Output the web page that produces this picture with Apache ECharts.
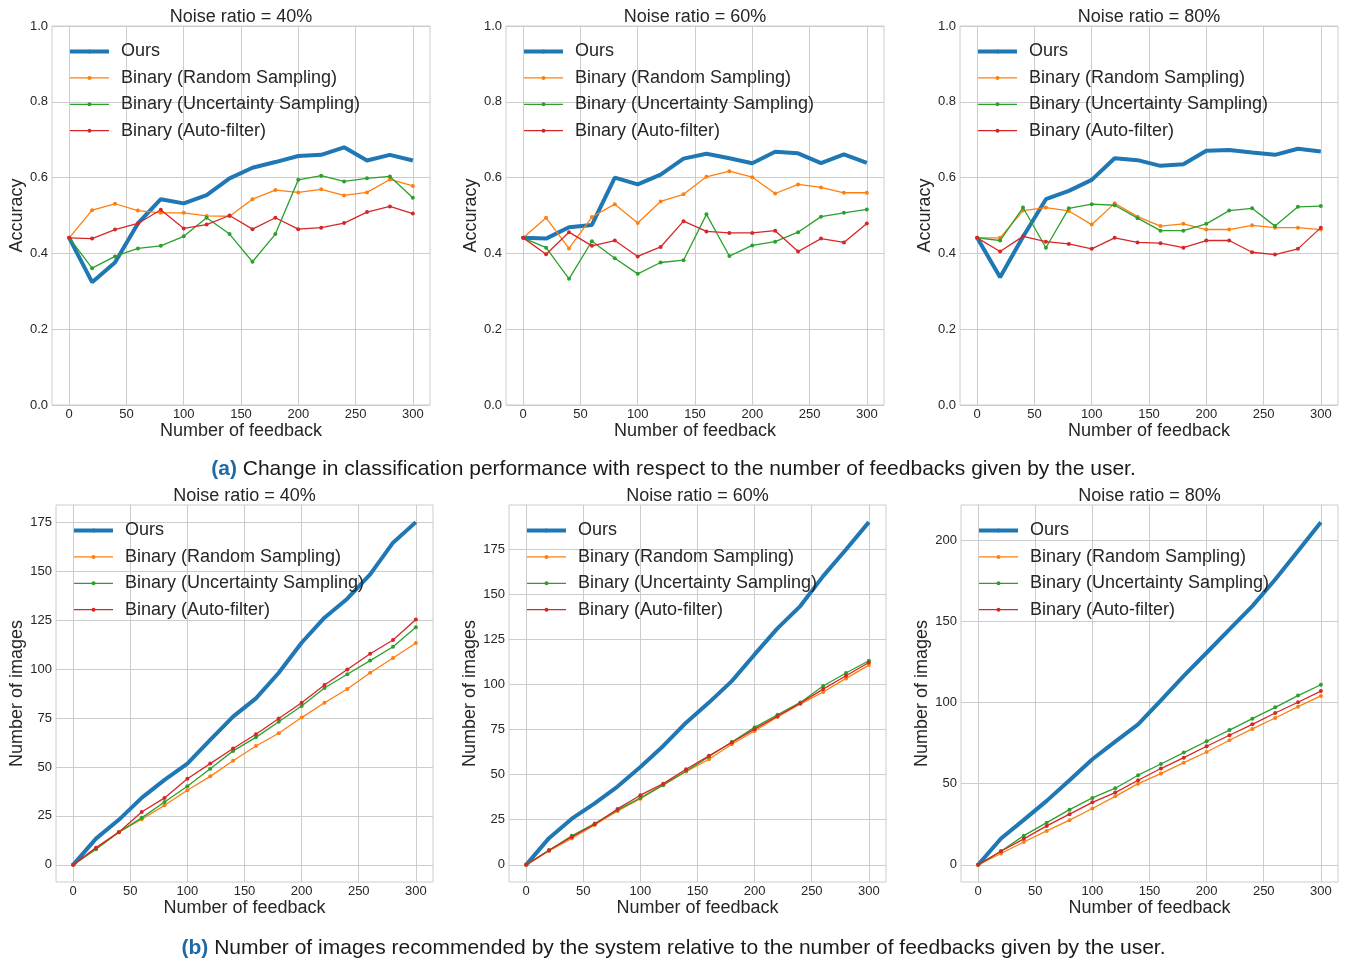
<!DOCTYPE html>
<html>
<head>
<meta charset="utf-8">
<script src="https://cdn.jsdelivr.net/npm/echarts@6/dist/echarts.min.js"></script>
<style>
html,body{margin:0;padding:0;background:#fff;}
#chart{width:1347px;height:963px;}
</style>
</head>
<body>
<div id="chart"></div>
<script>
// ---------------- DATA ----------------
const feedback = [0, 20, 40, 60, 80, 100, 120, 140, 160, 180, 200, 220, 240, 260, 280, 300];
const seriesNames = ['Ours', 'Binary (Random Sampling)', 'Binary (Uncertainty Sampling)', 'Binary (Auto-filter)'];
const panelTitles = ['Noise ratio = 40%', 'Noise ratio = 60%', 'Noise ratio = 80%'];
const xTickLabels = [0, 50, 100, 150, 200, 250, 300];
const accTickLabels = [0, 0.2, 0.4, 0.6, 0.8, 1.0];
const img40TickLabels = [0, 25, 50, 75, 100, 125, 150, 175];
const img60TickLabels = [0, 25, 50, 75, 100, 125, 150, 175];
const img80TickLabels = [0, 50, 100, 150, 200];

// (a) accuracy
const acc40_ours   = [0.441,0.324,0.376,0.479,0.543,0.532,0.554,0.598,0.626,0.641,0.657,0.660,0.680,0.645,0.660,0.645];
const acc40_random = [0.441,0.514,0.531,0.513,0.507,0.507,0.499,0.498,0.543,0.567,0.561,0.569,0.553,0.561,0.595,0.578];
const acc40_uncert = [0.441,0.361,0.392,0.413,0.420,0.445,0.494,0.451,0.378,0.451,0.594,0.605,0.590,0.598,0.603,0.547];
const acc40_auto   = [0.441,0.439,0.463,0.479,0.515,0.466,0.476,0.500,0.464,0.494,0.464,0.468,0.480,0.509,0.524,0.505];

const acc60_ours   = [0.441,0.439,0.469,0.475,0.600,0.582,0.608,0.650,0.663,0.651,0.638,0.668,0.664,0.638,0.661,0.639];
const acc60_random = [0.441,0.494,0.413,0.496,0.530,0.480,0.537,0.556,0.602,0.617,0.601,0.558,0.582,0.574,0.560,0.560];
const acc60_uncert = [0.441,0.415,0.333,0.432,0.387,0.346,0.376,0.382,0.503,0.393,0.421,0.431,0.456,0.497,0.507,0.516];
const acc60_auto   = [0.441,0.398,0.456,0.420,0.434,0.392,0.417,0.485,0.458,0.454,0.454,0.460,0.405,0.439,0.429,0.479];

const acc80_ours   = [0.441,0.337,0.444,0.543,0.565,0.594,0.651,0.646,0.631,0.635,0.671,0.673,0.666,0.660,0.676,0.669];
const acc80_random = [0.441,0.441,0.513,0.521,0.512,0.476,0.532,0.497,0.472,0.478,0.463,0.463,0.474,0.468,0.468,0.463];
const acc80_uncert = [0.441,0.434,0.521,0.415,0.519,0.530,0.527,0.493,0.460,0.460,0.478,0.513,0.519,0.472,0.523,0.525];
const acc80_auto   = [0.441,0.405,0.445,0.431,0.425,0.412,0.441,0.429,0.427,0.415,0.434,0.434,0.403,0.397,0.412,0.468];

// (b) number of images
const img40_ours   = [0,13.4,23.0,34.2,43.4,51.7,63.8,75.7,85.0,98.1,113.4,126.2,135.9,148.3,164.5,175.0];
const img40_random = [0,8.2,16.7,23.3,30.4,38.1,45.2,53.2,60.7,67.2,75.2,82.8,89.8,98.1,105.6,113.3];
const img40_uncert = [0,8.0,16.7,24.0,32.1,40.1,49.1,58.2,65.1,73.1,81.1,90.3,97.3,104.3,111.4,121.3];
const img40_auto   = [0,8.8,16.7,27.0,34.2,44.0,51.7,59.4,66.7,74.7,82.8,91.8,99.8,107.8,114.8,125.3];

const img60_ours   = [0,14.8,25.6,34.1,43.4,54.2,65.9,78.8,89.9,101.8,116.6,131.0,143.4,160.0,174.7,189.9];
const img60_random = [0,7.7,14.6,22.1,29.9,36.7,44.1,51.7,58.5,66.8,74.2,81.9,89.1,95.8,103.3,110.7];
const img60_uncert = [0,8.1,16.1,22.9,30.3,37.1,44.3,52.0,60.0,68.1,76.2,83.2,90.0,99.1,106.3,113.1];
const img60_auto   = [0,8.1,15.5,22.5,31.0,38.6,45.0,53.0,60.4,67.8,75.2,82.4,89.6,97.4,104.8,112.1];

const img80_ours   = [0,16.2,27.7,39.4,52.1,65.0,75.9,86.5,101.3,116.3,130.6,145.0,159.3,175.7,193.2,211.0];
const img80_random = [0,7.0,14.1,20.9,27.5,34.7,42.2,50.0,56.2,62.9,69.5,76.7,83.7,90.4,97.4,104.0];
const img80_uncert = [0,8.4,18.0,26.0,34.0,41.2,47.2,55.2,62.1,69.1,76.1,83.0,90.0,97.0,104.2,110.9];
const img80_auto   = [0,8.4,16.0,24.0,31.2,38.5,44.5,52.1,59.3,66.0,73.0,79.8,86.5,93.5,100.1,107.0];

const captionA = 'Change in classification performance with respect to the number of feedbacks given by the user.';
const captionB = 'Number of images recommended by the system relative to the number of feedbacks given by the user.';

// ---------------- STYLE / LAYOUT ----------------
const FONT = "'Liberation Sans', Arial, Helvetica, sans-serif";
const TXT = '#262626';
const GRIDC = '#cccccc';
const COLORS = ['#1f77b4', '#ff7f0e', '#2ca02c', '#d62728'];

function autoRange(arrays) {
  let lo = Infinity, hi = -Infinity;
  arrays.forEach(a => a.forEach(v => { lo = Math.min(lo, v); hi = Math.max(hi, v); }));
  const m = (hi - lo) * 0.05;
  return [lo - m, hi + m];
}
const xRange = autoRange([feedback]);

const panels = [
  {left: 52, top: 26, w: 378, h: 379, title: panelTitles[0], yName: 'Accuracy', lines: [acc40_ours, acc40_random, acc40_uncert, acc40_auto], yRange: [0, 1], ticks: accTickLabels, acc: true, nameGap: 26},
  {left: 506, top: 26, w: 378, h: 379, title: panelTitles[1], yName: 'Accuracy', lines: [acc60_ours, acc60_random, acc60_uncert, acc60_auto], yRange: [0, 1], ticks: accTickLabels, acc: true, nameGap: 26},
  {left: 960, top: 26, w: 378, h: 379, title: panelTitles[2], yName: 'Accuracy', lines: [acc80_ours, acc80_random, acc80_uncert, acc80_auto], yRange: [0, 1], ticks: accTickLabels, acc: true, nameGap: 26},
  {left: 56, top: 505, w: 377, h: 377, title: panelTitles[0], yName: 'Number of images', lines: [img40_ours, img40_random, img40_uncert, img40_auto], ticks: img40TickLabels, acc: false, nameGap: 28},
  {left: 509, top: 505, w: 377, h: 377, title: panelTitles[1], yName: 'Number of images', lines: [img60_ours, img60_random, img60_uncert, img60_auto], ticks: img60TickLabels, acc: false, nameGap: 28},
  {left: 961, top: 505, w: 377, h: 377, title: panelTitles[2], yName: 'Number of images', lines: [img80_ours, img80_random, img80_uncert, img80_auto], ticks: img80TickLabels, acc: false, nameGap: 28}
];
panels.forEach(p => { if (!p.yRange) p.yRange = autoRange(p.lines); });

const grid = [], xAxis = [], yAxis = [], series = [], legend = [], title = [];

panels.forEach((p, i) => {
  grid.push({left: p.left, top: p.top, width: p.w, height: p.h, show: true, borderColor: GRIDC, borderWidth: 1, backgroundColor: '#fff', containLabel: false});
  xAxis.push({
    type: 'value', gridIndex: i, min: xRange[0], max: xRange[1],
    axisLine: {show: false}, axisTick: {show: false, customValues: xTickLabels},
    axisLabel: {customValues: xTickLabels, color: TXT, fontSize: 13, margin: 3, fontFamily: FONT},
    splitLine: {show: true, lineStyle: {color: GRIDC, width: 1}},
    name: 'Number of feedback', nameLocation: 'middle', nameGap: 17,
    nameTextStyle: {fontSize: 18, color: TXT, fontFamily: FONT}
  });
  yAxis.push({
    type: 'value', gridIndex: i, min: p.yRange[0], max: p.yRange[1],
    axisLine: {show: false}, axisTick: {show: false, customValues: p.ticks},
    axisLabel: {customValues: p.ticks, color: TXT, fontSize: 13, margin: 4, fontFamily: FONT,
      formatter: p.acc ? (v => Number(v).toFixed(1)) : (v => String(Math.round(v)))},
    splitLine: {show: true, lineStyle: {color: GRIDC, width: 1}},
    name: p.yName, nameLocation: 'middle', nameGap: p.nameGap,
    nameTextStyle: {fontSize: 18, color: TXT, fontFamily: FONT}
  });
  title.push({
    text: p.title, left: p.left + p.w / 2, textAlign: 'center', top: p.top - 17.5, padding: 0,
    textStyle: {fontSize: 18, fontWeight: 'normal', color: TXT, fontFamily: FONT}
  });
  legend.push({
    orient: 'vertical', left: p.left + 16, top: p.top + 16.5, padding: 0,
    itemWidth: 39, itemHeight: 5, itemGap: 8.4, selectedMode: false,
    textStyle: {fontSize: 18, color: TXT, fontFamily: FONT, lineHeight: 18, padding: [0, 0, 0, 7]},
    data: seriesNames.map((n, k) => ({name: n, lineStyle: {width: k === 0 ? 4 : 1.3}}))
  });
  p.lines.forEach((arr, k) => {
    series.push({
      type: 'line', name: seriesNames[k], xAxisIndex: i, yAxisIndex: i,
      data: feedback.map((x, j) => [x, arr[j]]),
      lineStyle: {width: k === 0 ? 4 : 1.3, color: COLORS[k]},
      itemStyle: {color: COLORS[k]},
      symbol: k === 0 ? 'none' : 'circle', symbolSize: 4, showAllSymbol: true,
      silent: true, z: 2 + k, emphasis: {disabled: true}
    });
  });
});

title.push({
  text: '{b|(a)} ' + captionA, left: 673.5, textAlign: 'center', top: 458.5, padding: 0,
  textStyle: {fontSize: 21, fontWeight: 'normal', color: '#1a1a1a', fontFamily: FONT,
    rich: {b: {fontSize: 21, fontWeight: 'bold', color: '#1f6aa5', fontFamily: FONT}}}
});
title.push({
  text: '{b|(b)} ' + captionB, left: 673.5, textAlign: 'center', top: 937.5, padding: 0,
  textStyle: {fontSize: 21, fontWeight: 'normal', color: '#1a1a1a', fontFamily: FONT,
    rich: {b: {fontSize: 21, fontWeight: 'bold', color: '#1f6aa5', fontFamily: FONT}}}
});

const chart = echarts.init(document.getElementById('chart'), null, {renderer: 'canvas'});
chart.setOption({
  animation: false,
  backgroundColor: '#ffffff',
  textStyle: {fontFamily: FONT},
  title, legend, grid, xAxis, yAxis, series
});
</script>
</body>
</html>
